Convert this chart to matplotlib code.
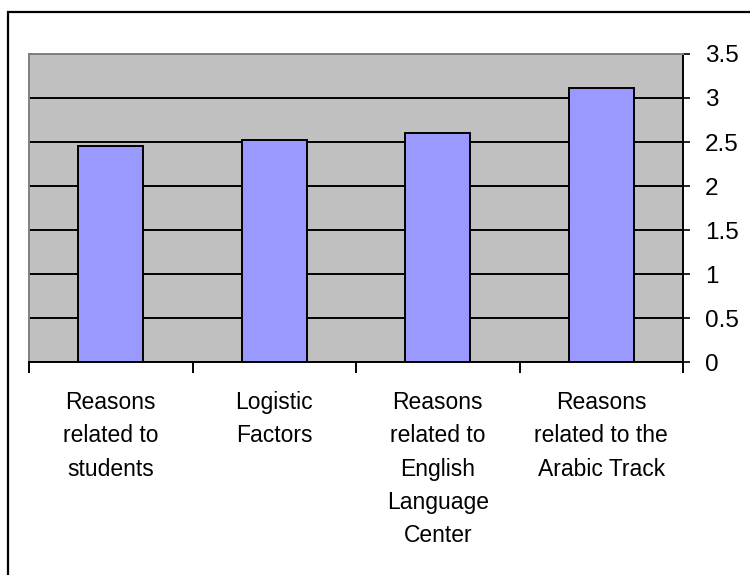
import matplotlib.pyplot as plt
from matplotlib.patches import Rectangle

plt.rcParams['font.family'] = ['Liberation Sans', 'DejaVu Sans']

categories = ['Reasons\nrelated to\nstudents',
              'Logistic\nFactors',
              'Reasons\nrelated to\nEnglish\nLanguage\nCenter',
              'Reasons\nrelated to the\nArabic Track']
means = [2.45, 2.52, 2.60, 3.11]

fig = plt.figure(figsize=(7.5, 5.75), dpi=100)
ax = fig.add_axes([0.0387, 0.3704, 0.872, 0.5357])

x = list(range(len(categories)))
ax.set_facecolor('#C0C0C0')
ax.set_axisbelow(True)
ax.yaxis.grid(True, color='black', linewidth=1.4)
ax.bar(x, means, width=0.4, color='#9999FF', edgecolor='black',
       linewidth=1.4, zorder=3)

ax.set_xlim(-0.5, len(categories) - 0.5)
ax.set_ylim(0, 3.5)
ax.set_yticks([0, 0.5, 1, 1.5, 2, 2.5, 3, 3.5])
ax.set_yticklabels(['0', '0.5', '1', '1.5', '2', '2.5', '3', '3.5'])
ax.yaxis.tick_right()
ax.tick_params(axis='y', direction='out', length=5, width=1.2,
               labelsize=17.5, pad=11)

# category labels sit at bar centres, ticks mark the category boundaries
ax.set_xticks(x)
ax.set_xticklabels(categories, fontsize=16.5, linespacing=1.57)
ax.tick_params(axis='x', length=0, pad=21)
ax.set_xticks([i - 0.5 for i in range(len(categories) + 1)], minor=True)
ax.tick_params(axis='x', which='minor', direction='out', length=8, width=1.4)

for side in ['top', 'left']:
    ax.spines[side].set_color('#808080')
    ax.spines[side].set_linewidth(1.4)
for side in ['bottom', 'right']:
    ax.spines[side].set_color('black')
    ax.spines[side].set_linewidth(1.4)

# outer chart frame
fig.patches.append(Rectangle((7.7 / 750, -0.05), 1.1, 1 - 12 / 575 + 0.05,
                             transform=fig.transFigure, fill=False,
                             edgecolor='black', linewidth=1.6))

fig.savefig('out.png', dpi=100)
